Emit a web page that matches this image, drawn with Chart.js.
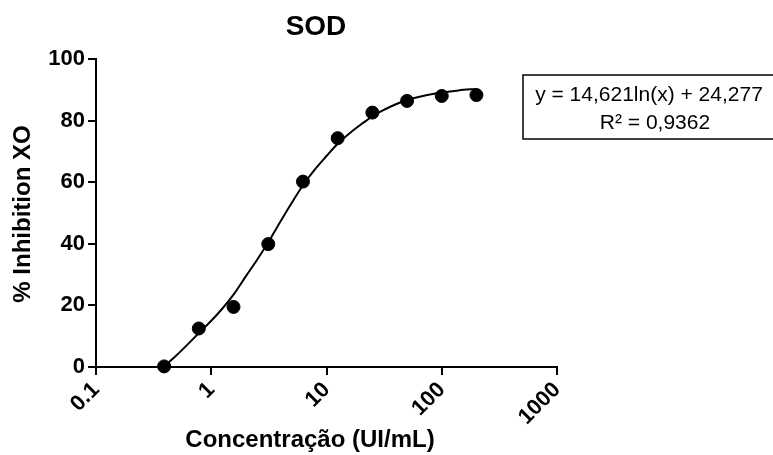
<!DOCTYPE html>
<html>
<head>
<meta charset="utf-8">
<script src="https://cdn.jsdelivr.net/npm/chart.js@4"></script>
<style>
  body { margin: 0; background: #fff; }
  canvas { display: block; }
</style>
</head>
<body>
<canvas id="sodChart" width="773" height="455"></canvas>
<script>
const xTicks = [0.1, 1, 10, 100, 1000];
const yTicks = [0, 20, 40, 60, 80, 100];

// measured points
const concentrations = [0.39, 0.78, 1.56, 3.125, 6.25, 12.5, 25, 50, 100, 200];
const inhibition = [0.2, 12.5, 19.5, 39.9, 60.2, 74.3, 82.6, 86.4, 88.0, 88.3];

// fitted curve
const fitX = [0.4, 0.5, 0.65, 0.8, 1, 1.25, 1.56, 2, 2.5, 3.125, 4, 5, 6.25, 8, 10, 12.5, 16, 20, 25, 32, 40, 50, 70, 100, 140, 200];
const fitY = [0.5, 3.8, 8.0, 11.4, 15.0, 19.0, 23.5, 29.5, 34.8, 40.5, 47.3, 53.3, 59.0, 64.3, 68.5, 72.5, 76.0, 78.8, 81.4, 83.6, 85.3, 86.7, 88.1, 89.1, 89.8, 90.3];

const titleText = "SOD";
const xTitle = "Concentração (UI/mL)";
const yTitle = "% Inhibition XO";
const equationLines = ["y = 14,621ln(x) + 24,277", "R² = 0,9362"];

const fontFamily = '"Liberation Sans", Arial, Helvetica, sans-serif';

const textPlugin = {
  id: "texts",
  afterDraw(chart) {
    const ctx = chart.ctx;
    ctx.save();
    ctx.fillStyle = "#000";
    ctx.textAlign = "center";
    ctx.textBaseline = "middle";

    ctx.font = `bold 28px ${fontFamily}`;
    ctx.fillText(titleText, 316, 27);

    ctx.font = `bold 24px ${fontFamily}`;
    ctx.fillText(xTitle, 310, 440);

    ctx.save();
    ctx.translate(23, 214);
    ctx.rotate(-Math.PI / 2);
    ctx.fillText(yTitle, 0, 0);
    ctx.restore();

    // equation box
    ctx.strokeStyle = "#000";
    ctx.lineWidth = 1.5;
    ctx.strokeRect(523, 75, 270, 64);
    ctx.font = `21px ${fontFamily}`;
    ctx.textBaseline = "alphabetic";
    ctx.fillText(equationLines[0], 649, 101);
    ctx.fillText(equationLines[1], 655, 129);
    ctx.restore();
  },
};

new Chart(document.getElementById("sodChart"), {
  type: "scatter",
  data: {
    datasets: [
      {
        label: "curve",
        data: fitX.map((x, i) => ({ x, y: fitY[i] })),
        showLine: true,
        borderColor: "#000",
        borderWidth: 2,
        pointRadius: 0,
        cubicInterpolationMode: "monotone",
        clip: false,
      },
      {
        label: "SOD",
        data: concentrations.map((x, i) => ({ x, y: inhibition[i] })),
        backgroundColor: "#000",
        borderColor: "#000",
        pointRadius: 6.5,
        clip: false,
      },
    ],
  },
  options: {
    responsive: false,
    animation: false,
    layout: { padding: { top: 59, right: 216, bottom: 0, left: 0 } },
    plugins: {
      legend: { display: false },
      title: { display: false },
      tooltip: { enabled: false },
    },
    scales: {
      x: {
        type: "logarithmic",
        min: 0.1,
        max: 1000,
        afterBuildTicks: (scale) => {
          scale.ticks = xTicks.map((v) => ({ value: v }));
        },
        afterFit: (scale) => {
          scale.height = 88;
        },
        ticks: {
          autoSkip: false,
          minRotation: 45,
          maxRotation: 45,
          color: "#000",
          padding: 2,
          font: { family: fontFamily, size: 22, weight: "bold" },
          callback: (value) => String(value),
        },
        grid: {
          drawOnChartArea: false,
          drawTicks: true,
          tickLength: 8,
          color: "#000",
          lineWidth: 2,
        },
        border: { display: true, color: "#000", width: 2 },
      },
      y: {
        type: "linear",
        min: 0,
        max: 100,
        afterBuildTicks: (scale) => {
          scale.ticks = yTicks.map((v) => ({ value: v }));
        },
        afterFit: (scale) => {
          scale.width = 96;
        },
        ticks: {
          color: "#000",
          padding: 3,
          font: { family: fontFamily, size: 22, weight: "bold" },
        },
        grid: {
          drawOnChartArea: false,
          drawTicks: true,
          tickLength: 8,
          color: "#000",
          lineWidth: 2,
        },
        border: { display: true, color: "#000", width: 2 },
      },
    },
  },
  plugins: [textPlugin],
});
</script>
</body>
</html>
